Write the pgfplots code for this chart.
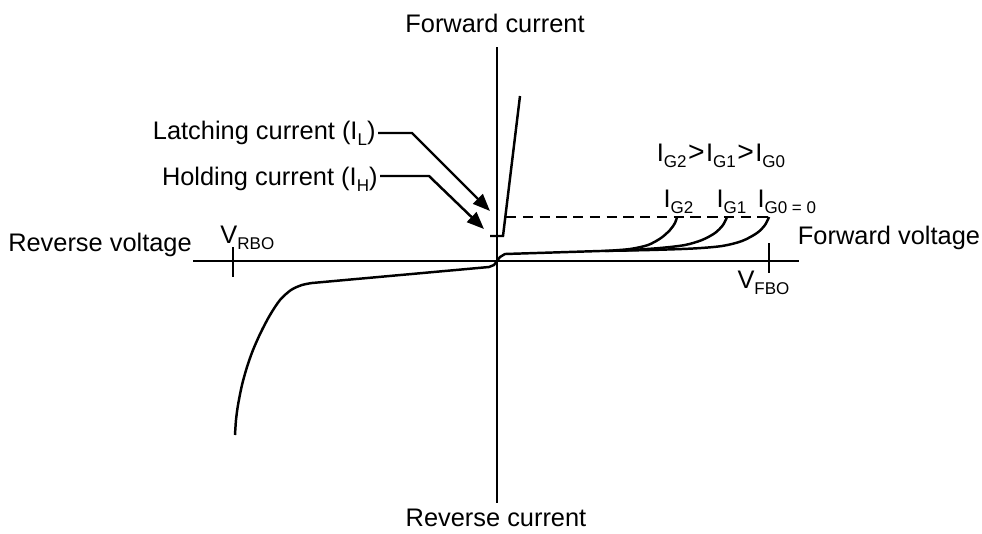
\documentclass[border=0pt]{standalone}
\usepackage{pgfplots}
\pgfplotsset{compat=1.18}
\usepackage{fontspec}
\setmainfont{Liberation Sans}
\usetikzlibrary{arrows.meta}
\newcommand{\sub}[1]{\raisebox{-0.45ex}{\fontsize{6.9}{7}\selectfont #1}}
\newcommand{\gt}{\kern0.6pt{\fontsize{11.5}{12}\selectfont >}\kern0.6pt}
\begin{document}
\begin{tikzpicture}
\begin{axis}[
  width=14cm, height=7.5988cm, scale only axis,
  xmin=0, xmax=982, ymin=0, ymax=533, y dir=reverse,
  hide axis, clip=false,
  cycle list={{black, solid, mark=none, line width=1pt}},
  nodes={font=\fontsize{10.3}{12}\selectfont, inner sep=0pt},
]
\addplot[draw=none] coordinates {(0,0) (982,533)};
% axes
\addplot[black, line width=0.85pt] coordinates {(497,47) (497,503)};
\addplot[black, line width=0.85pt] coordinates {(193,261) (799,261)};
% ticks
\addplot[black, line width=0.85pt] coordinates {(233,247) (233,277)};
\addplot[black, line width=0.85pt] coordinates {(769,243) (769,273)};
% reverse characteristic
\addplot[black, line width=1pt] coordinates {(497,261) (494,265) (489,267) (312,283)};
\addplot[black, line width=1pt, smooth] coordinates {(312,283) (302,285) (291,290) (280,300) (270,315) (261,332) (253,350) (247,367) (242,385) (238,405) (236,420) (235,435)};
% forward blocking with IG0 curve
\addplot[black, line width=1pt] coordinates {(497,261) (500,257) (505,254) (600,251)};
\addplot[black, line width=1pt, smooth] coordinates {(600,251) (650,250) (693,248.5) (722,246) (742,241) (757,233) (765,225) (769,217)};
% IG1
\addplot[black, line width=1pt, smooth] coordinates {(625,250.5) (660,248) (685,245) (702,240) (715,233) (723,225) (727,217)};
% IG2
\addplot[black, line width=1pt, smooth] coordinates {(605,251) (630,249) (648,245) (661,238) (670,230) (675,223) (677,217)};
% on-state
\addplot[black, line width=1pt] coordinates {(490,236) (503,236) (520,96)};
% holding level (dashed)
\addplot[black, line width=1pt, dash pattern=on 4.2pt off 2.6pt] coordinates {(506,217) (769,217)};
% arrows
\addplot[black, line width=1pt, -{Triangle[length=7pt,width=5.5pt]}] coordinates {(378,133) (412,133) (490,211)};
\addplot[black, line width=1pt, -{Triangle[length=7pt,width=5.5pt]}] coordinates {(380,176) (429,176) (484,229)};
% labels
\node at (axis cs:495,23) {Forward current};
\node at (axis cs:496,518) {Reverse current};
\node at (axis cs:100,245) {Reverse voltage};
\node at (axis cs:889,238) {Forward voltage};
\node[anchor=west] at (axis cs:220,238) {V\sub{RBO}};
\node[anchor=west] at (axis cs:737,283) {V\sub{FBO}};
\node[anchor=east] at (axis cs:376,133) {Latching current (I\sub{L})};
\node[anchor=east] at (axis cs:378,179) {Holding current (I\sub{H})};
\node at (axis cs:721,156) {I\sub{G2}\gt I\sub{G1}\gt I\sub{G0}};
\node[anchor=west] at (axis cs:663,202) {I\sub{G2}};
\node[anchor=west] at (axis cs:716,202) {I\sub{G1}};
\node[anchor=west] at (axis cs:757,202) {I\sub{G0 = 0}};
\end{axis}
\end{tikzpicture}
\end{document}
